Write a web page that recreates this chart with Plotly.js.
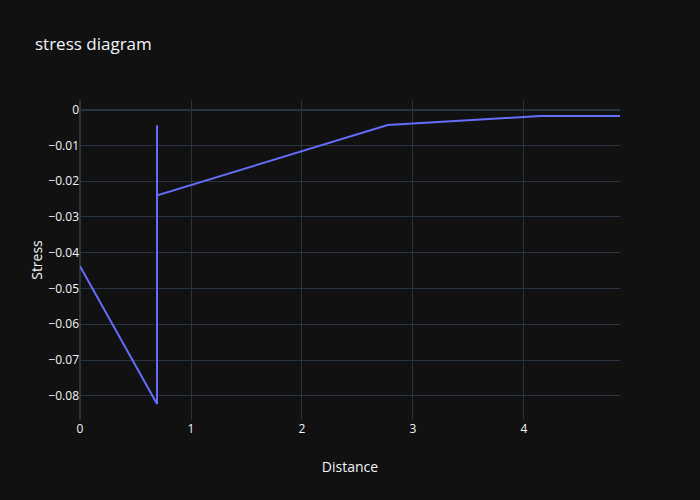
<!DOCTYPE html>
<html>
<head>
<meta charset="utf-8">
<script src="https://cdn.plot.ly/plotly-3.0.1.min.js"></script>
<style>html,body{margin:0;padding:0;background:#111111;}</style>
</head>
<body>
<div id="chart" style="width:700px;height:500px;"></div>
<script>
var distance = [0, 0.694, 0.694, 0.694, 2.772, 4.144, 4.865];
var stress = [-0.0438, -0.0823, -0.0044, -0.0240, -0.0043, -0.0018, -0.0018];

var trace = {
  x: distance,
  y: stress,
  type: 'scatter',
  mode: 'lines',
  line: {color: '#636efa', width: 2}
};

var axisStyle = {
  gridcolor: '#283442',
  showline: false,
  zerolinecolor: '#283442',
  zerolinewidth: 2,
  ticks: '',
  automargin: true
};

var layout = {
  width: 700,
  height: 500,
  paper_bgcolor: '#111111',
  plot_bgcolor: '#111111',
  font: {family: '"Open Sans", verdana, arial, sans-serif', color: '#f2f5fa', size: 12},
  title: {text: 'stress diagram', x: 0.05},
  margin: {l: 80, r: 80, t: 100, b: 80},
  xaxis: Object.assign({title: {text: 'Distance'}}, axisStyle),
  yaxis: Object.assign({title: {text: 'Stress'}}, axisStyle),
  showlegend: false
};

Plotly.newPlot('chart', [trace], layout, {displayModeBar: false});
</script>
</body>
</html>
